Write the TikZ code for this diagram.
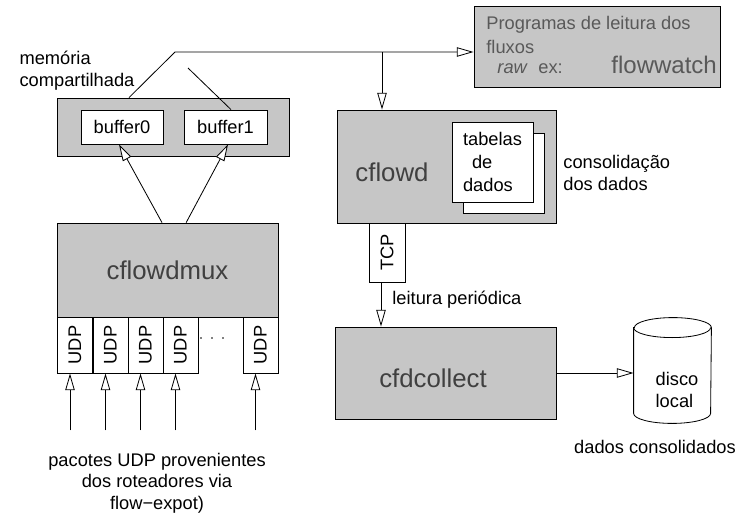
\documentclass[tikz,border=0pt]{standalone}
\usepackage{graphicx}
\usepackage{fontspec}
\setmainfont{Liberation Sans}
\usetikzlibrary{%
  arrows.meta,%
  positioning,%
  calc%
}

\begin{document}
\begin{tikzpicture}
  [
  x=0.3mm, y=-0.3mm,
  font=\fontsize{15.6}{18.5}\selectfont,
  line width=0.7pt,
  >={Triangle[fill=white,length=5mm,width=2.8mm]},
  procbox/.style={rectangle, draw=black, fill=gray!45, inner sep=0pt},
  whitebox/.style={rectangle, draw=black, fill=white, inner sep=0pt},
  udpcell/.style={whitebox, minimum width=10.5mm, minimum height=16.8mm},
  bigname/.style={text=black!75, font=\fontsize{22}{26}\selectfont},
  greytext/.style={text=black!65, inner sep=0pt},
  plain/.style={inner sep=0pt},
  ]

\useasboundingbox (0,0) rectangle (742,517);

% memoria compartilhada
\node[procbox, minimum width=69.6mm, minimum height=17.4mm] (shm) at (173,127) {};
\node[whitebox, minimum width=24.6mm, minimum height=10.2mm] (buf0) at (122,127) {buffer0};
\node[whitebox, minimum width=24.9mm, minimum height=10.2mm] (buf1) at (225.5,127) {buffer1};
\node[plain, align=left] (shmlbl) at (77,71) {memória\\compartilhada};

% cflowdmux com as portas UDP
\node[procbox, bigname, minimum width=66.3mm, minimum height=28.2mm] (mux) at (167.5,270) {cflowdmux};
\foreach \i/\x in {1/75,2/110.5,3/145.5,4/180.5,5/260.5}
  \node[udpcell] (udp\i) at (\x,345) {\rotatebox{90}{UDP}};
\draw[line width=1.6pt, line cap=round, dash pattern=on 0pt off 3.3mm] (201,338) -- (234,338);

\foreach \i in {1,...,5}
  \draw[->] ([xshift=-1.5mm]udp\i.south) ++(0,57) -- ([xshift=-1.5mm]udp\i.south);
\node[plain, align=center] (srclbl) at (157,483) {pacotes UDP provenientes\\dos roteadores via\\flow−expot)};

\draw[->] ([xshift=-1.65mm]mux.north) -- ([xshift=-0.9mm]buf0.south);
\draw[->] ([xshift=5.6mm]mux.north) -- ([xshift=0.75mm]buf1.south);

% leitura dos fluxos
\node[procbox, minimum width=73.8mm, minimum height=24.3mm] (prog) at (597,46.5) {};
\node[greytext, anchor=west] (progl1) at (486,25) {Programas de leitura dos};
\node[greytext, anchor=west] (progl2) at (486,47) {fluxos};
\node[greytext, anchor=base west, font=\fontsize{15.6}{18}\selectfont\itshape] (rawlbl) at (497,73) {raw};
\node[greytext, anchor=base west] (exlbl) at (538,73) {ex:};
\node[greytext, anchor=base west, font=\fontsize{20.5}{24}\selectfont] (fwlbl) at (611,73) {flowwatch};

\coordinate (bend) at (175,52);
\coordinate (drop) at (382,52);
\coordinate (tap) at (188,68);
\draw[->] ([xshift=-13.2mm]shm.north) -- (bend) -- (bend -| prog.west);
\draw ([xshift=1.65mm]buf1.north) -- (tap);

% cflowd
\node[procbox, minimum width=65.7mm, minimum height=33.9mm] (cflowd) at (446.5,166.5) {};
\node[bigname] (cflowdlbl) at (392,172) {cflowd};
\node[whitebox, minimum width=24.3mm, minimum height=24mm] (tabback) at (503.5,173) {};
\node[whitebox, minimum width=24.3mm, minimum height=24mm, align=left,
      font=\fontsize{15.6}{20}\selectfont] (tab) at (492.5,162) {tabelas\\\hspace{2.7mm}de\\dados};
\node[plain, align=left, anchor=west] (conslbl) at (563,173) {consolidação\\dos dados};
\draw[->] (drop) -- (drop |- cflowd.north);

% cfdcollect
\node[whitebox, minimum width=10.8mm, minimum height=17.7mm] (tcp) at (387,252.5) {\rotatebox{90}{TCP}};
\node[procbox, minimum width=66.3mm, minimum height=27.6mm] (cfd) at (445.5,373) {};
\node[bigname] (cfdlbl) at (433,378) {cfdcollect};
\draw[->] ([xshift=-1.8mm]tcp.south) -- ([xshift=-1.8mm]tcp.south |- cfd.north);
\node[plain, anchor=west] (leit) at (392,300) {leitura periódica};

% disco local
\node[minimum width=23.1mm, minimum height=25.5mm, inner sep=0pt] (disk) at (672.5,370.5) {};
\draw[fill=white] (disk.north west) -- (disk.south west)
  arc[start angle=180, end angle=360, x radius=11.55mm, y radius=3mm]
  -- (disk.north east)
  arc[start angle=0, end angle=180, x radius=11.55mm, y radius=3mm] -- cycle;
\draw (disk.north west) arc[start angle=180, end angle=360, x radius=11.55mm, y radius=3mm];
\node[plain, align=left] (disklbl) at (677,390) {disco\\local};
\node[plain] (dadoslbl) at (655,447) {dados consolidados};
\draw[->] (cfd.east) -- (cfd.east -| disk.west);
\end{tikzpicture}
\end{document}
